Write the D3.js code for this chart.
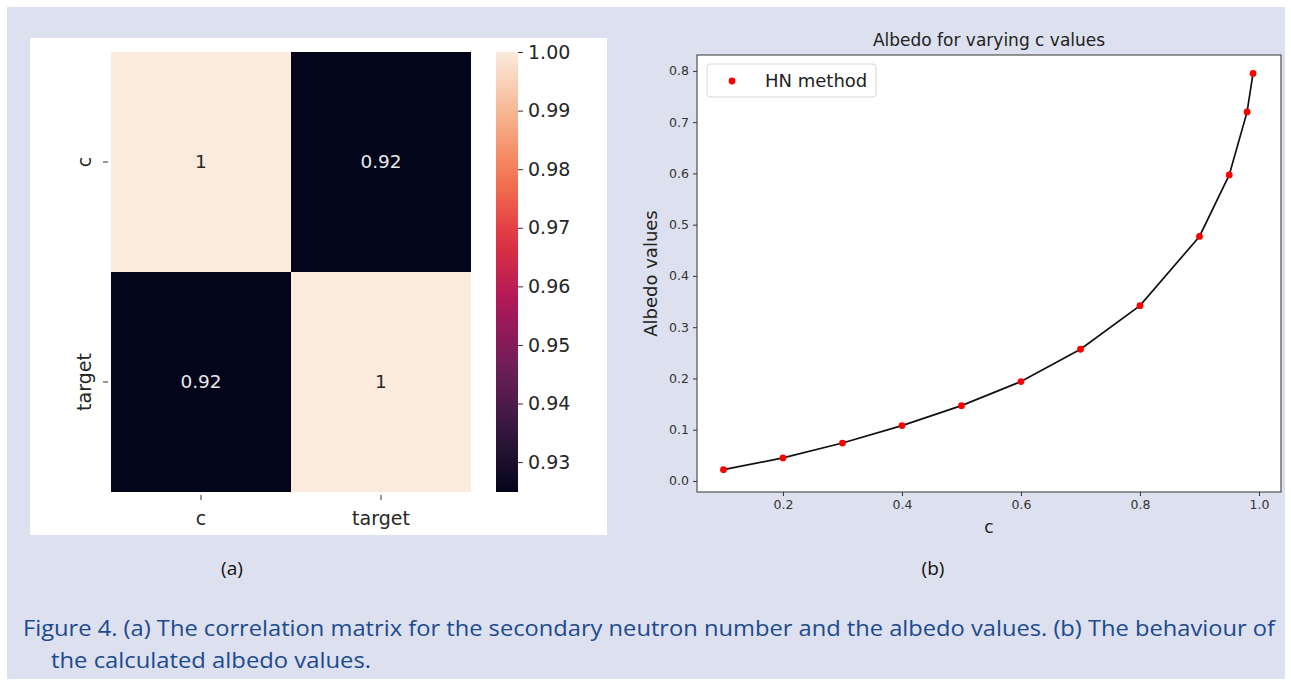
<!DOCTYPE html>
<html>
<head>
<meta charset="utf-8">
<script src="https://cdn.jsdelivr.net/npm/d3@7"></script>
<style>
  body { margin: 0; background: #ffffff; }
  svg { display: block; }
</style>
</head>
<body>
<svg id="fig" width="1291" height="684"></svg>
<script>
// ---- data ----
// correlation matrix (a)
var corrLabels = ["c", "target"];
var corrValues = [[1, 0.9249], [0.9249, 1]];
var colorbarTicks = [0.93, 0.94, 0.95, 0.96, 0.97, 0.98, 0.99, 1.00];

// albedo curve (b)
var cValues = [0.1, 0.2, 0.3, 0.4, 0.5, 0.6, 0.7, 0.8, 0.9, 0.95, 0.98, 0.99];
var albedoValues = [0.022, 0.045, 0.074, 0.108, 0.147, 0.194, 0.257, 0.342, 0.477, 0.597, 0.720, 0.795];
var xTicks = [0.2, 0.4, 0.6, 0.8, 1.0];
var yTicks = [0.0, 0.1, 0.2, 0.3, 0.4, 0.5, 0.6, 0.7, 0.8];

var captionLines = [
    "Figure 4. (a) The correlation matrix for the secondary neutron number and the albedo values. (b) The behaviour of",
    "the calculated albedo values."
];

// seaborn "rocket" colormap stops
var rocketColors = ["#03051a", "#35193e", "#701f57", "#ad1759", "#e13342", "#f37651", "#f6b48f", "#faebdd"];

var svg = d3.select("#fig");
var mplFont = "'DejaVu Sans', Verdana, sans-serif";

// page background
svg.append("rect")
    .attr("x", 7).attr("y", 7)
    .attr("width", 1278).attr("height", 672)
    .attr("fill", "#dde0ee");

// ================= (a) heatmap =================
svg.append("rect")
    .attr("x", 30).attr("y", 38)
    .attr("width", 577).attr("height", 497)
    .attr("fill", "#ffffff");

var hx = d3.scaleBand().domain(corrLabels).range([111, 471]);
var hy = d3.scaleBand().domain(corrLabels).range([52, 492]);

var vmin = d3.min(corrValues, function(r) { return d3.min(r); });
var vmax = d3.max(corrValues, function(r) { return d3.max(r); });
var rocket = d3.piecewise(d3.interpolateRgb, rocketColors);
var color = d3.scaleSequential(rocket).domain([vmin, vmax]);

var cells = [];
corrValues.forEach(function(row, i) {
    row.forEach(function(v, j) {
        cells.push({row: corrLabels[i], col: corrLabels[j], value: v});
    });
});

var gHeat = svg.append("g");
gHeat.selectAll("rect")
    .data(cells)
    .enter()
    .append("rect")
    .attr("x", function(d) { return hx(d.col); })
    .attr("y", function(d) { return hy(d.row); })
    .attr("width", hx.bandwidth())
    .attr("height", hy.bandwidth())
    .attr("fill", function(d) { return color(d.value); });

// annotations
var annFmt = d3.format(".2~g");
gHeat.selectAll("text")
    .data(cells)
    .enter()
    .append("text")
    .attr("x", function(d) { return hx(d.col) + hx.bandwidth() / 2; })
    .attr("y", function(d) { return hy(d.row) + hy.bandwidth() / 2; })
    .attr("dy", "0.35em")
    .attr("text-anchor", "middle")
    .attr("font-family", mplFont)
    .attr("font-size", 18.5)
    .attr("fill", function(d) { return d.value > (vmin + vmax) / 2 ? "#262626" : "#e8e8e8"; })
    .text(function(d) { return annFmt(d.value); });

// heatmap axes
var hxAxis = svg.append("g")
    .attr("transform", "translate(0,492)")
    .call(d3.axisBottom(hx).tickSize(8).tickPadding(12));
var hyAxis = svg.append("g")
    .attr("transform", "translate(111,0)")
    .call(d3.axisLeft(hy).tickSize(8).tickPadding(10));
[hxAxis, hyAxis].forEach(function(a) {
    a.select(".domain").remove();
    a.selectAll("line").attr("stroke", "#333");
    a.selectAll("text")
        .attr("font-family", mplFont)
        .attr("font-size", 19)
        .attr("fill", "#262626");
});
hxAxis.selectAll(".tick line").attr("y1", 3);
hyAxis.selectAll(".tick line").attr("x1", -3);
hyAxis.selectAll(".tick text")
    .attr("text-anchor", "middle")
    .attr("x", 0).attr("dy", 0)
    .attr("transform", "translate(-20,0) rotate(-90)");

// colorbar
var cbY = d3.scaleLinear().domain([vmin, vmax]).range([492, 52]);
var defs = svg.append("defs");
var grad = defs.append("linearGradient")
    .attr("id", "rocketGrad")
    .attr("x1", 0).attr("y1", 1).attr("x2", 0).attr("y2", 0);
d3.range(0, 1.0001, 0.05).forEach(function(t) {
    grad.append("stop")
        .attr("offset", t)
        .attr("stop-color", rocket(t));
});
svg.append("rect")
    .attr("x", 496).attr("y", 52)
    .attr("width", 22).attr("height", 440)
    .attr("fill", "url(#rocketGrad)");

var cbAxis = svg.append("g")
    .attr("transform", "translate(518,0)")
    .call(d3.axisRight(cbY).tickValues(colorbarTicks).tickFormat(d3.format(".2f")).tickSize(5).tickPadding(5));
cbAxis.select(".domain").remove();
cbAxis.selectAll("line").attr("stroke", "#333");
cbAxis.selectAll("text")
    .attr("font-family", mplFont)
    .attr("font-size", 19)
    .attr("fill", "#262626");

// ================= (b) albedo plot =================
var margin = {left: 697, right: 1281, top: 55, bottom: 492};
var x = d3.scaleLinear().domain([0.0555, 1.037]).range([margin.left, margin.right]);
var y = d3.scaleLinear().domain([-0.0215, 0.831]).range([margin.bottom, margin.top]);

svg.append("rect")
    .attr("x", margin.left).attr("y", margin.top)
    .attr("width", margin.right - margin.left)
    .attr("height", margin.bottom - margin.top)
    .attr("fill", "#ffffff");

var xAxis = svg.append("g")
    .attr("transform", "translate(0," + margin.bottom + ")")
    .call(d3.axisBottom(x).tickValues(xTicks).tickFormat(d3.format(".1f")).tickSize(4).tickPadding(4));
var yAxis = svg.append("g")
    .attr("transform", "translate(" + margin.left + ",0)")
    .call(d3.axisLeft(y).tickValues(yTicks).tickFormat(d3.format(".1f")).tickSize(4).tickPadding(4));
[xAxis, yAxis].forEach(function(a) {
    a.select(".domain").remove();
    a.selectAll("line").attr("stroke", "#333");
    a.selectAll("text")
        .attr("font-family", mplFont)
        .attr("font-size", 12.5)
        .attr("fill", "#333");
});

// line
var line = d3.line()
    .x(function(d, i) { return x(cValues[i]); })
    .y(function(d) { return y(d); });
svg.append("path")
    .datum(albedoValues)
    .attr("d", line)
    .attr("fill", "none")
    .attr("stroke", "#111")
    .attr("stroke-width", 1.7);

// points
svg.append("g")
    .selectAll("circle")
    .data(albedoValues)
    .enter()
    .append("circle")
    .attr("cx", function(d, i) { return x(cValues[i]); })
    .attr("cy", function(d) { return y(d); })
    .attr("r", 3.4)
    .attr("fill", "#ff0000");

// frame
svg.append("rect")
    .attr("x", margin.left).attr("y", margin.top)
    .attr("width", margin.right - margin.left)
    .attr("height", margin.bottom - margin.top)
    .attr("fill", "none")
    .attr("stroke", "#333")
    .attr("stroke-width", 1);

// title and labels
svg.append("text")
    .attr("x", (margin.left + margin.right) / 2).attr("y", 46)
    .attr("text-anchor", "middle")
    .attr("font-family", mplFont)
    .attr("font-size", 17)
    .attr("fill", "#222")
    .text("Albedo for varying c values");

svg.append("text")
    .attr("x", (margin.left + margin.right) / 2).attr("y", 533)
    .attr("text-anchor", "middle")
    .attr("font-family", mplFont)
    .attr("font-size", 17)
    .attr("fill", "#222")
    .text("c");

svg.append("text")
    .attr("transform", "translate(657," + ((margin.top + margin.bottom) / 2) + ") rotate(-90)")
    .attr("text-anchor", "middle")
    .attr("font-family", mplFont)
    .attr("font-size", 18)
    .attr("fill", "#222")
    .text("Albedo values");

// legend
var legend = svg.append("g");
legend.append("rect")
    .attr("x", 707).attr("y", 64)
    .attr("width", 169).attr("height", 33)
    .attr("rx", 3)
    .attr("fill", "#ffffff")
    .attr("stroke", "#d6d6d6");
legend.append("circle")
    .attr("cx", 732).attr("cy", 81)
    .attr("r", 3.4)
    .attr("fill", "#ff0000");
legend.append("text")
    .attr("x", 765).attr("y", 87)
    .attr("font-family", mplFont)
    .attr("font-size", 18)
    .attr("fill", "#222")
    .text("HN method");

// ================= panel labels and caption =================
var docFont = "'Open Sans', 'Noto Sans', sans-serif";
svg.append("text")
    .attr("x", 232).attr("y", 575)
    .attr("text-anchor", "middle")
    .attr("font-family", docFont)
    .attr("font-size", 19)
    .attr("fill", "#111")
    .text("(a)");
svg.append("text")
    .attr("x", 933).attr("y", 575)
    .attr("text-anchor", "middle")
    .attr("font-family", docFont)
    .attr("font-size", 19)
    .attr("fill", "#111")
    .text("(b)");

var capX = [23, 51], capY = [636, 668], capW = [1252, 320];
svg.append("g")
    .selectAll("text")
    .data(captionLines)
    .enter()
    .append("text")
    .attr("x", function(d, i) { return capX[i]; })
    .attr("y", function(d, i) { return capY[i]; })
    .attr("textLength", function(d, i) { return capW[i]; })
    .attr("lengthAdjust", "spacingAndGlyphs")
    .attr("font-family", docFont)
    .attr("font-size", 22)
    .attr("fill", "#1c4a8e")
    .text(function(d) { return d; });
</script>
</body>
</html>
